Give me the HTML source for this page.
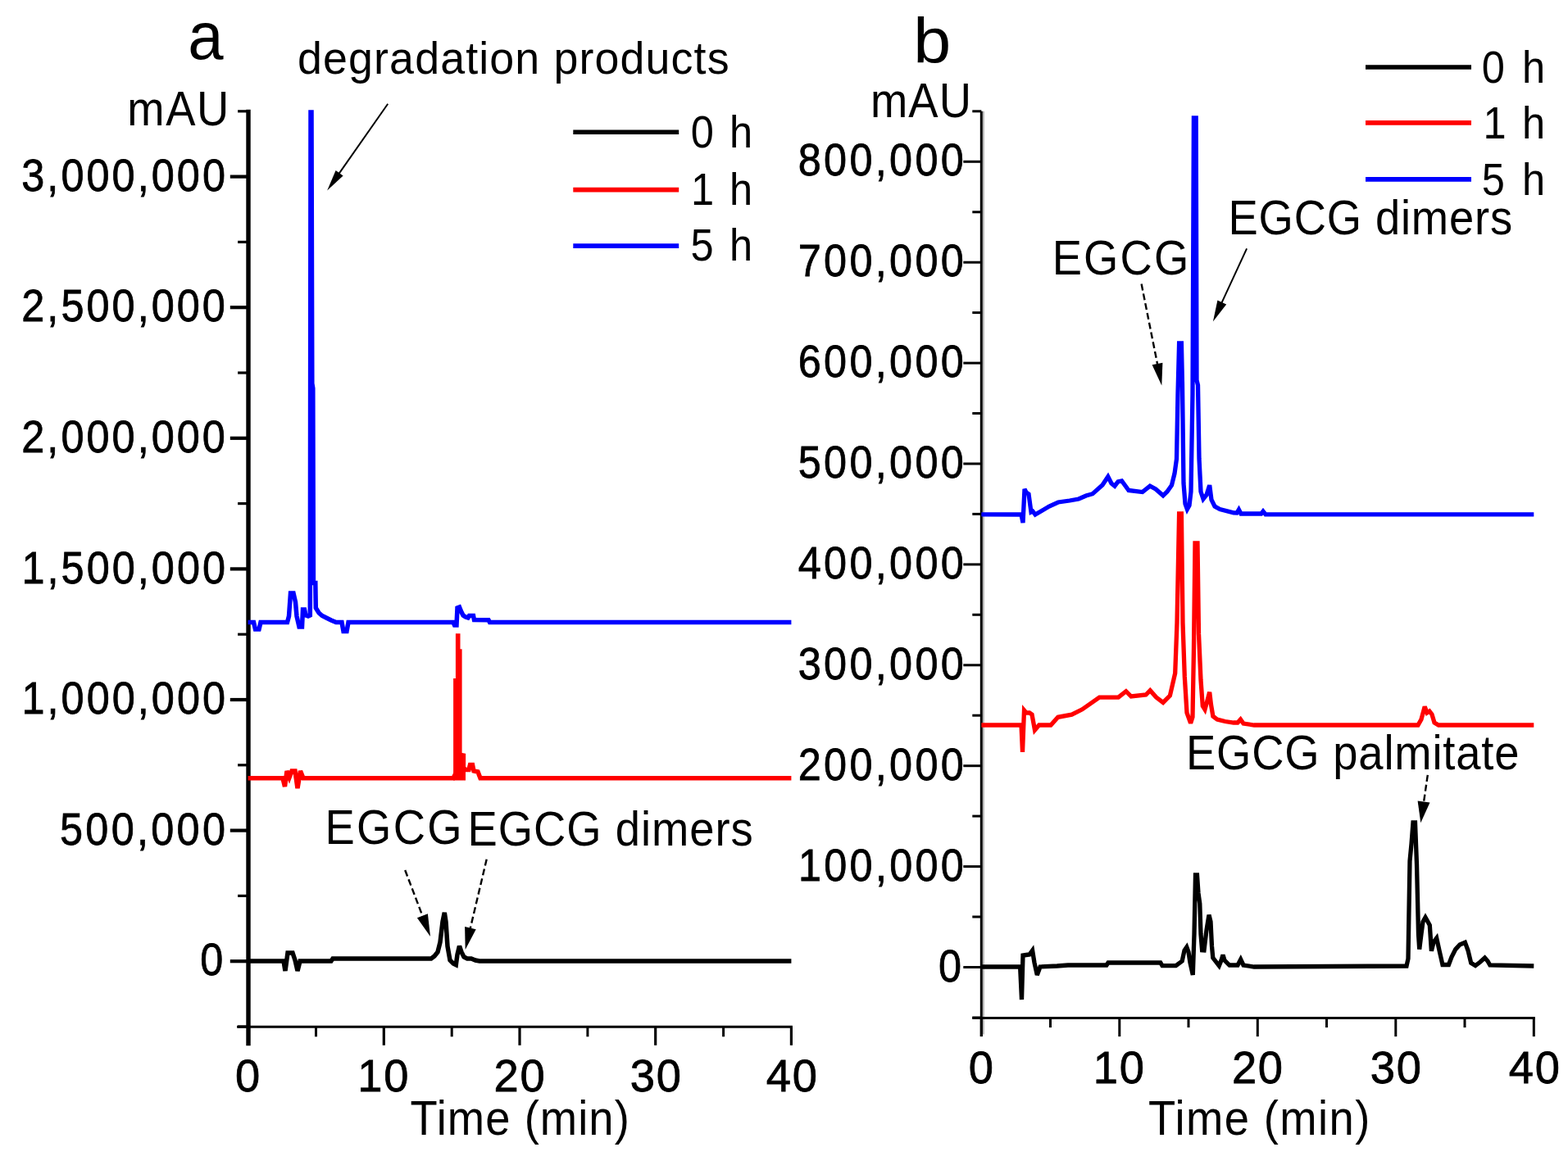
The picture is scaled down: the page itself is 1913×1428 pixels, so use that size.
<!DOCTYPE html>
<html><head><meta charset="utf-8"><title>HPLC chromatograms</title>
<style>
html,body{margin:0;padding:0;background:#fff;}
body{width:1913px;height:1428px;overflow:hidden;}
svg{display:block;}
text{font-family:"Liberation Sans",Arial,sans-serif;fill:#000;}
</style></head>
<body>
<svg width="1913" height="1428" viewBox="0 0 1913 1428">
<rect x="0" y="0" width="1913" height="1428" fill="#fff"/>
<line x1="303.0" y1="133.8" x2="303.0" y2="1276.3" stroke="#000" stroke-width="5.4"/>
<line x1="290.1" y1="1253.0" x2="302.6" y2="1253.0" stroke="#000" stroke-width="3.2"/>
<line x1="280.8" y1="1173.2" x2="302.6" y2="1173.2" stroke="#000" stroke-width="4.2"/>
<text transform="translate(244.3,1190.3) scale(0.9,1)" font-size="56" stroke="#000" stroke-width="0.8">0</text>
<line x1="290.1" y1="1093.4" x2="302.6" y2="1093.4" stroke="#000" stroke-width="3.2"/>
<line x1="280.8" y1="1013.6" x2="302.6" y2="1013.6" stroke="#000" stroke-width="4.2"/>
<text transform="translate(73.0,1030.7) scale(0.9,1)" font-size="56" textLength="224.4" lengthAdjust="spacing" stroke="#000" stroke-width="0.8">500,000</text>
<line x1="290.1" y1="933.8" x2="302.6" y2="933.8" stroke="#000" stroke-width="3.2"/>
<line x1="280.8" y1="854.0" x2="302.6" y2="854.0" stroke="#000" stroke-width="4.2"/>
<text transform="translate(26.5,871.1) scale(0.9,1)" font-size="56" textLength="276.1" lengthAdjust="spacing" stroke="#000" stroke-width="0.8">1,000,000</text>
<line x1="290.1" y1="774.2" x2="302.6" y2="774.2" stroke="#000" stroke-width="3.2"/>
<line x1="280.8" y1="694.4" x2="302.6" y2="694.4" stroke="#000" stroke-width="4.2"/>
<text transform="translate(26.5,711.5) scale(0.9,1)" font-size="56" textLength="276.1" lengthAdjust="spacing" stroke="#000" stroke-width="0.8">1,500,000</text>
<line x1="290.1" y1="614.6" x2="302.6" y2="614.6" stroke="#000" stroke-width="3.2"/>
<line x1="280.8" y1="534.8" x2="302.6" y2="534.8" stroke="#000" stroke-width="4.2"/>
<text transform="translate(26.3,551.9) scale(0.9,1)" font-size="56" textLength="276.2" lengthAdjust="spacing" stroke="#000" stroke-width="0.8">2,000,000</text>
<line x1="290.1" y1="455.0" x2="302.6" y2="455.0" stroke="#000" stroke-width="3.2"/>
<line x1="280.8" y1="375.2" x2="302.6" y2="375.2" stroke="#000" stroke-width="4.2"/>
<text transform="translate(26.3,392.3) scale(0.9,1)" font-size="56" textLength="276.2" lengthAdjust="spacing" stroke="#000" stroke-width="0.8">2,500,000</text>
<line x1="290.1" y1="295.4" x2="302.6" y2="295.4" stroke="#000" stroke-width="3.2"/>
<line x1="280.8" y1="215.6" x2="302.6" y2="215.6" stroke="#000" stroke-width="4.2"/>
<text transform="translate(26.3,232.7) scale(0.9,1)" font-size="56" textLength="276.3" lengthAdjust="spacing" stroke="#000" stroke-width="0.8">3,000,000</text>
<line x1="290.1" y1="135.8" x2="302.6" y2="135.8" stroke="#000" stroke-width="3.2"/>
<line x1="289.1" y1="1253.3" x2="966.9" y2="1253.3" stroke="#000" stroke-width="3.0"/>
<line x1="302.6" y1="1253.3" x2="302.6" y2="1275.8" stroke="#000" stroke-width="3.2"/>
<text transform="translate(287.1,1332.3) scale(0.97,1)" font-size="56" stroke="#000" stroke-width="0.8">0</text>
<line x1="385.5" y1="1253.3" x2="385.5" y2="1265.3" stroke="#000" stroke-width="3"/>
<line x1="468.3" y1="1253.3" x2="468.3" y2="1275.8" stroke="#000" stroke-width="3.2"/>
<text transform="translate(436.3,1332.3) scale(0.97,1)" font-size="56" textLength="64.0" lengthAdjust="spacing" stroke="#000" stroke-width="0.8">10</text>
<line x1="551.2" y1="1253.3" x2="551.2" y2="1265.3" stroke="#000" stroke-width="3"/>
<line x1="634.0" y1="1253.3" x2="634.0" y2="1275.8" stroke="#000" stroke-width="3.2"/>
<text transform="translate(602.6,1332.3) scale(0.97,1)" font-size="56" textLength="64.1" lengthAdjust="spacing" stroke="#000" stroke-width="0.8">20</text>
<line x1="716.9" y1="1253.3" x2="716.9" y2="1265.3" stroke="#000" stroke-width="3"/>
<line x1="799.7" y1="1253.3" x2="799.7" y2="1275.8" stroke="#000" stroke-width="3.2"/>
<text transform="translate(768.7,1332.3) scale(0.97,1)" font-size="56" textLength="64.1" lengthAdjust="spacing" stroke="#000" stroke-width="0.8">30</text>
<line x1="882.6" y1="1253.3" x2="882.6" y2="1265.3" stroke="#000" stroke-width="3"/>
<line x1="965.4" y1="1253.3" x2="965.4" y2="1275.8" stroke="#000" stroke-width="3.2"/>
<text transform="translate(934.8,1332.3) scale(0.97,1)" font-size="56" textLength="64.1" lengthAdjust="spacing" stroke="#000" stroke-width="0.8">40</text>
<text transform="translate(500.4,1385.0) scale(0.93,1)" font-size="58.5" textLength="287.5" lengthAdjust="spacing">Time (min)</text>
<text transform="translate(155.2,152.7) scale(0.93,1)" font-size="58.5" textLength="133.5" lengthAdjust="spacing">mAU</text>
<text transform="translate(229.3,71.8) scale(0.95,1)" font-size="82">a</text>
<text transform="translate(363.0,89.9) scale(0.96,1)" font-size="56" textLength="548.5" lengthAdjust="spacing">degradation products</text>
<text transform="translate(396.4,1030.0) scale(0.93,1)" font-size="58.5" textLength="179.8" lengthAdjust="spacing">EGCG</text>
<text transform="translate(570.6,1031.6) scale(0.93,1)" font-size="58.5" textLength="374.3" lengthAdjust="spacing">EGCG dimers</text>
<line x1="699.3" y1="161.2" x2="828.2" y2="161.2" stroke="#000" stroke-width="5.6"/>
<text transform="translate(842.8,180.3) scale(0.92,1)" font-size="55" textLength="81.8" lengthAdjust="spacing">0 h</text>
<line x1="699.3" y1="231.6" x2="828.2" y2="231.6" stroke="#f00" stroke-width="5.6"/>
<text transform="translate(842.9,249.8) scale(0.92,1)" font-size="55" textLength="81.8" lengthAdjust="spacing">1 h</text>
<line x1="699.3" y1="300.1" x2="828.2" y2="300.1" stroke="#00f" stroke-width="5.6"/>
<text transform="translate(842.6,318.0) scale(0.92,1)" font-size="55" textLength="82.1" lengthAdjust="spacing">5 h</text>
<line x1="473.2" y1="126.7" x2="412.9" y2="212.9" stroke="#000" stroke-width="2.0"/>
<polygon points="399.2,232.6 409.6,208.1 418.6,214.4" fill="#000"/>
<line x1="494.2" y1="1062.0" x2="516.1" y2="1119.5" stroke="#000" stroke-width="2.4" stroke-dasharray="8,4"/>
<polygon points="525.0,1142.9 508.9,1120.2 521.9,1115.2" fill="#000"/>
<line x1="593.7" y1="1048.8" x2="573.4" y2="1134.6" stroke="#000" stroke-width="2.4" stroke-dasharray="8,4"/>
<polygon points="567.7,1158.9 567.1,1131.0 580.7,1134.2" fill="#000"/>
<polyline points="302.6,1173.0 346.0,1173.0 348.0,1185.0 351.0,1163.0 357.0,1163.0 360.0,1172.0 363.0,1185.0 366.0,1173.0 404.0,1173.0 406.0,1170.0 526.0,1170.0 530.0,1167.0 534.0,1162.0 537.0,1150.0 540.0,1125.0 542.3,1113.8 544.0,1125.0 546.0,1155.0 549.0,1172.0 553.0,1176.0 556.3,1177.6 558.0,1165.0 560.5,1154.6 563.0,1162.0 566.0,1168.0 570.0,1170.0 575.0,1170.0 580.0,1172.0 585.0,1173.0 965.4,1173.0" fill="none" stroke="#000" stroke-width="5.5" stroke-linejoin="miter" stroke-miterlimit="3"/>
<polyline points="302.6,949.8 345.0,949.8 347.5,960.0 350.0,941.0 353.0,949.0 356.0,941.0 360.0,941.0 363.0,962.0 366.5,941.0 370.0,949.8 553.0,949.8 558.0,940.0 563.0,925.0 565.4,920.0 565.4,937.0 568.0,939.5 572.0,939.5 573.5,933.6 576.5,933.6 578.0,941.0 583.0,942.0 586.0,949.8 965.4,949.8" fill="none" stroke="#f00" stroke-width="5.5" stroke-linejoin="miter" stroke-miterlimit="3"/>
<polygon points="553.1,952.6 553.1,827.9 555.9,827.9 555.9,773.3 561.5,773.3 561.5,792.2 563.6,792.2 563.6,919.7 568,919.7 568,952.6" fill="#f00"/>
<polyline points="302.6,759.6 309.5,759.6 311.5,768.0 316.0,768.0 318.0,759.6 350.5,759.6 352.5,752.0 354.5,724.0 358.0,724.0 360.5,735.0 362.0,752.0 365.0,765.0 368.5,765.0 369.5,744.0 371.5,744.0 373.0,751.0 376.0,752.0 378.3,751.0 379.0,137.0 380.0,137.0 380.8,468.0 381.8,474.0 382.4,711.5 384.8,711.5 385.3,742.0 389.0,748.0 393.0,751.5 398.0,754.0 404.0,757.0 410.0,759.6 417.0,759.6 419.0,770.5 423.0,770.5 425.0,759.6 553.0,759.6 554.5,763.0 557.0,763.0 558.0,742.0 560.5,741.0 562.5,746.0 565.0,751.0 568.0,753.0 571.0,754.0 572.5,751.5 577.5,751.5 578.5,756.5 596.0,756.7 597.5,759.6 965.4,759.6" fill="none" stroke="#00f" stroke-width="5.5" stroke-linejoin="miter" stroke-miterlimit="3"/>
<line x1="1199.9" y1="135.8" x2="1199.9" y2="1262.6" stroke="#b8b8b8" stroke-width="2.0"/>
<line x1="1197.3" y1="135.8" x2="1197.3" y2="1265.1" stroke="#000" stroke-width="3.0"/>
<line x1="1186.3" y1="1242.0" x2="1197.3" y2="1242.0" stroke="#000" stroke-width="3.0"/>
<line x1="1175.3" y1="1180.5" x2="1197.3" y2="1180.5" stroke="#000" stroke-width="3.0"/>
<text transform="translate(1145.1,1197.6) scale(0.9,1)" font-size="56" stroke="#000" stroke-width="0.8">0</text>
<line x1="1186.3" y1="1119.0" x2="1197.3" y2="1119.0" stroke="#000" stroke-width="3.0"/>
<line x1="1175.3" y1="1057.6" x2="1197.3" y2="1057.6" stroke="#000" stroke-width="3.0"/>
<text transform="translate(974.0,1074.7) scale(0.9,1)" font-size="56" textLength="224.2" lengthAdjust="spacing" stroke="#000" stroke-width="0.8">100,000</text>
<line x1="1186.3" y1="996.1" x2="1197.3" y2="996.1" stroke="#000" stroke-width="3.0"/>
<line x1="1175.3" y1="934.7" x2="1197.3" y2="934.7" stroke="#000" stroke-width="3.0"/>
<text transform="translate(973.8,951.8) scale(0.9,1)" font-size="56" textLength="224.4" lengthAdjust="spacing" stroke="#000" stroke-width="0.8">200,000</text>
<line x1="1186.3" y1="873.2" x2="1197.3" y2="873.2" stroke="#000" stroke-width="3.0"/>
<line x1="1175.3" y1="811.8" x2="1197.3" y2="811.8" stroke="#000" stroke-width="3.0"/>
<text transform="translate(973.8,828.9) scale(0.9,1)" font-size="56" textLength="224.4" lengthAdjust="spacing" stroke="#000" stroke-width="0.8">300,000</text>
<line x1="1186.3" y1="750.3" x2="1197.3" y2="750.3" stroke="#000" stroke-width="3.0"/>
<line x1="1175.3" y1="688.9" x2="1197.3" y2="688.9" stroke="#000" stroke-width="3.0"/>
<text transform="translate(973.7,706.0) scale(0.9,1)" font-size="56" textLength="224.5" lengthAdjust="spacing" stroke="#000" stroke-width="0.8">400,000</text>
<line x1="1186.3" y1="627.4" x2="1197.3" y2="627.4" stroke="#000" stroke-width="3.0"/>
<line x1="1175.3" y1="566.0" x2="1197.3" y2="566.0" stroke="#000" stroke-width="3.0"/>
<text transform="translate(973.8,583.1) scale(0.9,1)" font-size="56" textLength="224.4" lengthAdjust="spacing" stroke="#000" stroke-width="0.8">500,000</text>
<line x1="1186.3" y1="504.5" x2="1197.3" y2="504.5" stroke="#000" stroke-width="3.0"/>
<line x1="1175.3" y1="443.1" x2="1197.3" y2="443.1" stroke="#000" stroke-width="3.0"/>
<text transform="translate(973.8,460.2) scale(0.9,1)" font-size="56" textLength="224.4" lengthAdjust="spacing" stroke="#000" stroke-width="0.8">600,000</text>
<line x1="1186.3" y1="381.6" x2="1197.3" y2="381.6" stroke="#000" stroke-width="3.0"/>
<line x1="1175.3" y1="320.2" x2="1197.3" y2="320.2" stroke="#000" stroke-width="3.0"/>
<text transform="translate(973.8,337.3) scale(0.9,1)" font-size="56" textLength="224.4" lengthAdjust="spacing" stroke="#000" stroke-width="0.8">700,000</text>
<line x1="1186.3" y1="258.8" x2="1197.3" y2="258.8" stroke="#000" stroke-width="3.0"/>
<line x1="1175.3" y1="197.3" x2="1197.3" y2="197.3" stroke="#000" stroke-width="3.0"/>
<text transform="translate(973.8,214.4) scale(0.9,1)" font-size="56" textLength="224.4" lengthAdjust="spacing" stroke="#000" stroke-width="0.8">800,000</text>
<line x1="1186.3" y1="135.8" x2="1197.3" y2="135.8" stroke="#000" stroke-width="3.0"/>
<line x1="1186.3" y1="1242.6" x2="1872.8" y2="1242.6" stroke="#000" stroke-width="3.0"/>
<line x1="1197.3" y1="1242.6" x2="1197.3" y2="1265.1" stroke="#000" stroke-width="3.0"/>
<text transform="translate(1181.8,1321.9) scale(0.97,1)" font-size="56" stroke="#000" stroke-width="0.8">0</text>
<line x1="1281.5" y1="1242.6" x2="1281.5" y2="1254.1" stroke="#000" stroke-width="3.0"/>
<line x1="1365.8" y1="1242.6" x2="1365.8" y2="1265.1" stroke="#000" stroke-width="3.0"/>
<text transform="translate(1333.8,1321.9) scale(0.97,1)" font-size="56" textLength="64.0" lengthAdjust="spacing" stroke="#000" stroke-width="0.8">10</text>
<line x1="1450.0" y1="1242.6" x2="1450.0" y2="1254.1" stroke="#000" stroke-width="3.0"/>
<line x1="1534.3" y1="1242.6" x2="1534.3" y2="1265.1" stroke="#000" stroke-width="3.0"/>
<text transform="translate(1502.9,1321.9) scale(0.97,1)" font-size="56" textLength="64.1" lengthAdjust="spacing" stroke="#000" stroke-width="0.8">20</text>
<line x1="1618.5" y1="1242.6" x2="1618.5" y2="1254.1" stroke="#000" stroke-width="3.0"/>
<line x1="1702.8" y1="1242.6" x2="1702.8" y2="1265.1" stroke="#000" stroke-width="3.0"/>
<text transform="translate(1671.8,1321.9) scale(0.97,1)" font-size="56" textLength="64.1" lengthAdjust="spacing" stroke="#000" stroke-width="0.8">30</text>
<line x1="1787.0" y1="1242.6" x2="1787.0" y2="1254.1" stroke="#000" stroke-width="3.0"/>
<line x1="1871.3" y1="1242.6" x2="1871.3" y2="1265.1" stroke="#000" stroke-width="3.0"/>
<text transform="translate(1840.7,1321.9) scale(0.97,1)" font-size="56" textLength="64.1" lengthAdjust="spacing" stroke="#000" stroke-width="0.8">40</text>
<text transform="translate(1400.9,1385.0) scale(0.93,1)" font-size="58.5" textLength="290.7" lengthAdjust="spacing">Time (min)</text>
<text transform="translate(1061.9,143.0) scale(0.93,1)" font-size="58.5" textLength="132.4" lengthAdjust="spacing">mAU</text>
<text transform="translate(1114.2,76.8) scale(1.06,1)" font-size="78">b</text>
<text transform="translate(1283.7,334.8) scale(0.93,1)" font-size="58.5" textLength="179.1" lengthAdjust="spacing">EGCG</text>
<text transform="translate(1498.5,285.7) scale(0.93,1)" font-size="58.5" textLength="372.8" lengthAdjust="spacing">EGCG dimers</text>
<text transform="translate(1447.0,938.6) scale(0.93,1)" font-size="58.5" textLength="437.0" lengthAdjust="spacing">EGCG palmitate</text>
<line x1="1666.0" y1="82.0" x2="1795.0" y2="82.0" stroke="#000" stroke-width="5.6"/>
<text transform="translate(1807.8,100.8) scale(0.92,1)" font-size="55" textLength="84.0" lengthAdjust="spacing">0 h</text>
<line x1="1666.0" y1="149.9" x2="1795.0" y2="149.9" stroke="#f00" stroke-width="5.6"/>
<text transform="translate(1809.4,168.9) scale(0.92,1)" font-size="55" textLength="82.3" lengthAdjust="spacing">1 h</text>
<line x1="1666.0" y1="218.9" x2="1795.0" y2="218.9" stroke="#00f" stroke-width="5.6"/>
<text transform="translate(1807.8,237.6) scale(0.92,1)" font-size="55" textLength="84.0" lengthAdjust="spacing">5 h</text>
<line x1="1392.6" y1="346.6" x2="1412.4" y2="445.9" stroke="#000" stroke-width="2.4" stroke-dasharray="8,4"/>
<polygon points="1417.3,470.4 1405.6,445.2 1418.4,442.7" fill="#000"/>
<line x1="1521.1" y1="303.3" x2="1490.0" y2="370.7" stroke="#000" stroke-width="2.0"/>
<polygon points="1479.9,392.5 1485.4,366.4 1496.2,371.4" fill="#000"/>
<line x1="1741.8" y1="945.9" x2="1736.8" y2="980.5" stroke="#000" stroke-width="2.4" stroke-dasharray="8,4"/>
<polygon points="1733.3,1004.2 1729.6,977.4 1744.5,979.6" fill="#000"/>
<polyline points="1197.3,1180.0 1244.6,1180.0 1246.5,1220.0 1248.0,1166.0 1252.0,1165.5 1256.0,1165.0 1259.6,1160.0 1262.0,1175.0 1265.3,1190.0 1269.0,1180.0 1289.7,1179.0 1302.9,1178.0 1350.0,1178.0 1352.0,1175.0 1415.8,1175.0 1418.0,1178.7 1434.6,1178.7 1442.2,1173.0 1445.0,1160.0 1447.8,1156.0 1450.0,1162.0 1452.0,1175.0 1455.3,1190.0 1457.0,1140.0 1458.5,1068.0 1460.5,1068.0 1462.0,1090.0 1463.8,1103.0 1465.0,1140.0 1466.6,1159.8 1469.0,1160.0 1472.0,1135.0 1475.0,1116.6 1477.0,1125.0 1478.5,1155.0 1479.8,1169.0 1487.3,1178.7 1490.0,1172.0 1492.0,1165.5 1494.0,1172.0 1500.0,1178.0 1510.0,1178.0 1513.7,1171.0 1517.0,1178.0 1530.0,1180.0 1716.0,1179.0 1718.0,1170.0 1720.0,1051.0 1722.0,1030.0 1724.0,1004.0 1726.5,1004.0 1728.5,1055.0 1730.5,1140.0 1731.7,1158.6 1734.0,1140.0 1736.0,1125.0 1739.0,1119.7 1742.0,1125.0 1744.3,1129.2 1746.4,1160.7 1749.0,1150.0 1752.7,1145.0 1756.0,1160.0 1760.0,1177.5 1767.4,1177.5 1771.0,1168.0 1775.8,1158.6 1781.0,1153.0 1787.4,1150.2 1791.0,1160.0 1794.7,1175.4 1800.0,1178.5 1806.0,1174.0 1811.5,1169.0 1815.0,1173.0 1817.8,1178.0 1871.3,1179.0" fill="none" stroke="#000" stroke-width="5.3" stroke-linejoin="miter" stroke-miterlimit="3"/>
<polyline points="1197.3,885.0 1246.0,885.0 1247.5,918.0 1249.5,867.0 1252.0,870.0 1256.0,870.0 1259.0,872.0 1262.5,891.0 1267.7,885.0 1282.0,885.0 1290.8,875.3 1307.6,872.1 1320.3,865.8 1341.3,851.1 1364.4,851.1 1373.8,843.7 1380.0,850.0 1398.0,848.0 1403.2,842.7 1410.6,851.1 1419.0,857.4 1427.4,849.0 1433.7,821.7 1436.0,760.0 1438.6,627.0 1441.4,627.0 1443.0,760.0 1445.3,825.9 1448.0,870.0 1452.6,882.6 1455.0,875.0 1456.5,790.0 1458.0,663.0 1461.0,663.0 1462.5,773.4 1465.0,830.0 1467.3,861.6 1470.0,866.0 1473.0,855.0 1475.7,844.8 1477.5,860.0 1479.9,874.2 1485.0,878.0 1494.6,880.5 1505.0,882.0 1510.0,882.0 1513.5,878.0 1517.0,883.0 1530.0,885.0 1730.0,885.0 1734.0,878.0 1738.2,862.4 1741.0,870.0 1744.0,868.0 1747.0,872.0 1750.0,882.0 1755.0,885.0 1871.3,885.0" fill="none" stroke="#f00" stroke-width="5.3" stroke-linejoin="miter" stroke-miterlimit="3"/>
<polyline points="1197.3,627.9 1246.0,628.0 1248.0,638.0 1250.0,597.0 1252.0,601.0 1255.0,603.0 1258.0,625.0 1260.0,624.0 1263.0,628.0 1270.0,624.0 1280.0,618.0 1291.0,613.0 1305.0,611.0 1316.0,609.0 1325.0,605.0 1333.0,602.7 1345.0,592.0 1351.8,581.7 1356.0,590.0 1360.0,593.2 1364.0,588.0 1368.6,587.0 1373.0,593.0 1377.0,598.5 1393.8,600.6 1403.0,593.2 1410.0,597.0 1419.0,604.8 1424.0,600.0 1429.5,592.2 1433.0,578.0 1435.5,560.0 1437.0,480.0 1438.6,419.0 1441.4,419.0 1442.5,470.0 1444.0,590.0 1446.0,615.0 1448.4,621.6 1451.0,617.0 1453.0,600.0 1455.0,480.0 1456.4,144.0 1459.2,144.0 1460.0,464.0 1461.5,470.0 1463.0,560.0 1465.0,600.0 1468.0,609.0 1472.0,604.0 1475.7,592.2 1478.0,610.0 1482.0,618.0 1488.3,621.6 1505.0,625.8 1509.0,626.0 1511.4,622.0 1514.0,627.0 1538.7,627.0 1541.0,624.0 1544.0,627.9 1871.3,627.9" fill="none" stroke="#00f" stroke-width="5.3" stroke-linejoin="miter" stroke-miterlimit="3"/>
</svg>
</body></html>
